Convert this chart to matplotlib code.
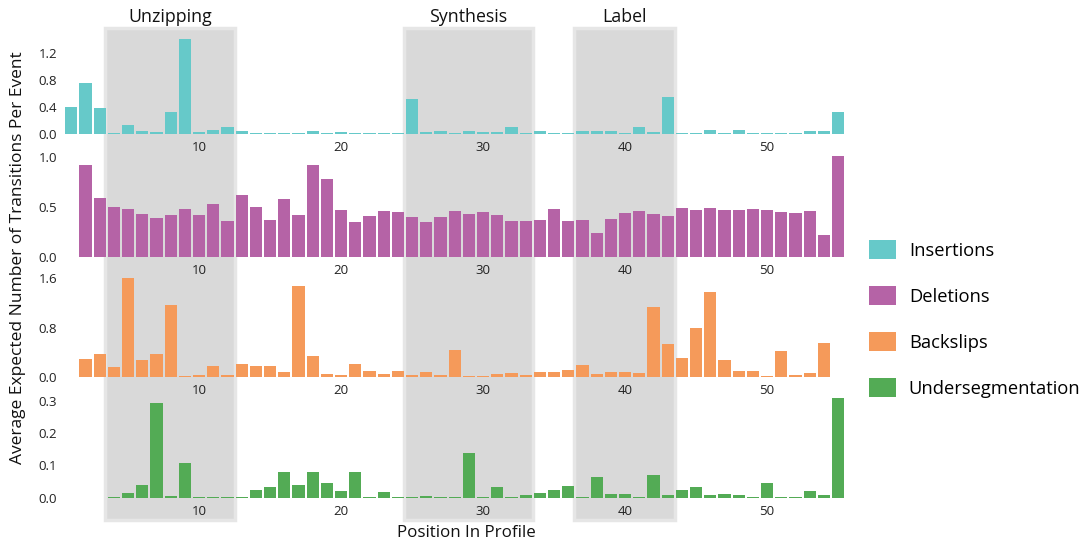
import matplotlib
matplotlib.use("Agg")
import matplotlib.pyplot as plt
from matplotlib.patches import Rectangle, Patch
from matplotlib.transforms import blended_transform_factory

plt.rcParams['font.family'] = ['Open Sans', 'DejaVu Sans']

# позиції в профілі
positions = list(range(1, 56))

insertions = [0.40, 0.76, 0.39, 0.02, 0.14, 0.05, 0.03, 0.33, 1.40, 0.03,
              0.06, 0.10, 0.05, 0.015, 0.02, 0.015, 0.02, 0.05, 0.02, 0.03,
              0.015, 0.015, 0.015, 0.02, 0.52, 0.03, 0.04, 0.02, 0.04, 0.03,
              0.03, 0.11, 0.02, 0.04, 0.015, 0.015, 0.04, 0.04, 0.05, 0.02,
              0.10, 0.03, 0.55, 0.02, 0.015, 0.06, 0.015, 0.06, 0.015, 0.015,
              0.02, 0.02, 0.04, 0.04, 0.32]
deletions = [0.005, 0.92, 0.59, 0.50, 0.48, 0.43, 0.39, 0.42, 0.48, 0.42,
             0.53, 0.36, 0.62, 0.50, 0.37, 0.58, 0.42, 0.92, 0.78, 0.47,
             0.35, 0.41, 0.46, 0.45, 0.40, 0.35, 0.40, 0.46, 0.43, 0.45,
             0.42, 0.36, 0.36, 0.37, 0.48, 0.36, 0.37, 0.24, 0.38, 0.44,
             0.46, 0.43, 0.41, 0.49, 0.47, 0.49, 0.47, 0.47, 0.48, 0.47,
             0.45, 0.44, 0.46, 0.22, 1.01]
backslips = [0.005, 0.30, 0.37, 0.17, 1.61, 0.28, 0.38, 1.17, 0.02, 0.04,
             0.18, 0.04, 0.21, 0.18, 0.18, 0.09, 1.48, 0.35, 0.05, 0.04,
             0.21, 0.10, 0.05, 0.10, 0.04, 0.08, 0.04, 0.44, 0.02, 0.02,
             0.05, 0.07, 0.04, 0.09, 0.09, 0.12, 0.20, 0.05, 0.09, 0.09,
             0.07, 1.14, 0.54, 0.31, 0.80, 1.38, 0.28, 0.10, 0.10, 0.02,
             0.43, 0.04, 0.07, 0.56, 0.005]
underseg = [0.0, 0.0, 0.0, 0.001, 0.015, 0.04, 0.295, 0.005, 0.106, 0.002,
            0.001, 0.002, 0.001, 0.024, 0.034, 0.081, 0.040, 0.078, 0.046, 0.021,
            0.081, 0.002, 0.018, 0.001, 0.002, 0.005, 0.002, 0.002, 0.14, 0.001,
            0.034, 0.002, 0.008, 0.015, 0.025, 0.037, 0.001, 0.065, 0.012, 0.012,
            0.002, 0.071, 0.008, 0.025, 0.034, 0.009, 0.012, 0.009, 0.002, 0.046,
            0.002, 0.002, 0.021, 0.009, 0.31]

series_names = ['Insertions', 'Deletions', 'Backslips', 'Undersegmentation']
series_values = [insertions, deletions, backslips, underseg]
colors = ['#66c9c9', '#b563a6', '#f59a5a', '#53ab55']
y_ticks = [[0.0, 0.4, 0.8, 1.2], [0.0, 0.5, 1.0], [0.0, 0.8, 1.6], [0.0, 0.1, 0.2, 0.3]]
y_limits = [1.45, 1.05, 1.65, 0.32]
x_ticks = [10, 20, 30, 40, 50]

regions = ['Unzipping', 'Synthesis', 'Label']
region_spans = [(3.4, 12.55), (24.4, 33.55), (36.4, 43.5)]

fig = plt.figure(figsize=(10.87, 5.45), dpi=100)

# межі панелей у частках фігури (низ, висота)
boxes = [(0.754, 0.180), (0.528, 0.193), (0.308, 0.187), (0.087, 0.189)]
axes = []
for i in range(4):
    ax = fig.add_axes([0.059, boxes[i][0], 0.7185, boxes[i][1]])
    ax.patch.set_alpha(0)
    ax.bar(positions, series_values[i], width=0.86, color=colors[i], zorder=3)
    ax.set_xlim(0.5, 55.5)
    ax.set_ylim(0, y_limits[i])
    ax.set_yticks(y_ticks[i])
    ax.set_yticklabels([f'{t:.1f}' for t in y_ticks[i]])
    ax.set_xticks(x_ticks)
    ax.tick_params(length=0, labelsize=9.5, colors='#222222')
    ax.tick_params(axis='x', pad=5)
    ax.tick_params(axis='y', pad=5)
    for s in ax.spines.values():
        s.set_visible(False)
    axes.append(ax)

# сірі смуги через всі панелі
tr = blended_transform_factory(axes[0].transData, fig.transFigure)
for name, (a, b) in zip(regions, region_spans):
    rect = Rectangle((a, 1 - 520 / 545), b - a, (520 - 28) / 545, transform=tr,
                     facecolor='#d9d9d9', edgecolor='#e6e6e6', linewidth=2.5, zorder=-1)
    fig.patches.append(rect)
    fig.text((a + b) / 2, 1 - 17 / 545, name, transform=tr, ha='center', va='center',
             fontsize=12.8, color='#111111')

fig.text(466 / 1087, 1 - 533 / 545, 'Position In Profile', ha='center', va='center',
         fontsize=12.2, color='#111111')
fig.text(18 / 1087, 1 - 258 / 545, 'Average Expected Number of Transitions Per Event',
         rotation=90, ha='center', va='center', fontsize=12.5, color='#111111')

handles = [Patch(facecolor=c, label=n) for c, n in zip(colors, series_names)]
fig.legend(handles=handles, loc='center left', bbox_to_anchor=(852 / 1087, 1 - 319 / 545),
           frameon=False, fontsize=13.2, handlelength=1.5, handleheight=1.2,
           labelspacing=1.45, handletextpad=0.7)

fig.savefig('out.png', dpi=100)
